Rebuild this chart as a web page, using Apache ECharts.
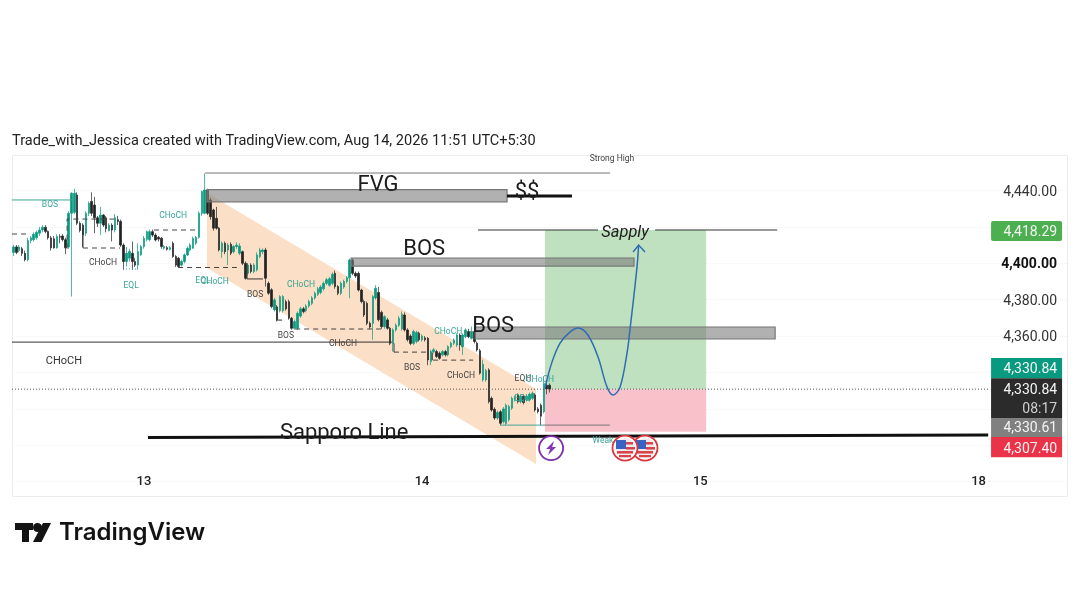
<!DOCTYPE html>
<html><head><meta charset="utf-8">
<style>html,body{margin:0;padding:0;background:#fff}#c{width:1080px;height:608px}</style>
<script src="https://cdn.jsdelivr.net/npm/echarts@6/dist/echarts.min.js"></script>
</head><body><div id="c"></div>
<script>
var slotCount = 364;
var dayLabelSlots = [45, 141, 237, 333];
var dayLabels = ['13', '14', '15', '18'];
var shownPrices = [4440, 4400, 4380, 4360];
// open, close, low, high per 15-minute bar
var candles = [
[4406,4409,4404,4410],[4409,4406,4405,4410],[4407,4409,4406,4410],[4408,4405.5,4404,4409],[4405.5,4402,4401,4407],
[4402,4412.5,4401,4414],[4412.5,4414,4411,4415],[4413,4416,4412,4417],[4414,4417,4413,4418],[4416.5,4418.3,4415,4420],
[4418.3,4419.8,4417,4421],[4419.8,4417.5,4416.5,4421],[4417.5,4414,4413,4418],[4414,4408.5,4407,4415],[4413.5,4408.5,4408,4415],
[4408.5,4414.7,4408,4416],[4414.7,4414.3,4411,4416],[4415,4413,4412,4416],[4413,4408.5,4405,4414],[4409,4427.5,4408,4428.5],
[4427.5,4438.5,4381.7,4439],[4428,4438.5,4427,4441],[4437.5,4422,4421,4439],[4422,4418,4417,4423],[4421,4415.5,4409,4422],
[4416.5,4427.5,4415,4428.5],[4427.5,4433,4426,4434],[4434,4427.5,4426,4439],[4432,4425,4416.5,4436.5],[4425,4422,4420,4426],
[4422,4426.5,4415.5,4431],[4426.5,4421,4420,4427],[4425,4419,4417,4426],[4418,4421,4417.5,4422],[4421,4418.3,4412,4422],
[4418.3,4425,4417,4427],[4424,4423,4421,4426],[4423,4410,4409,4424],[4410,4401,4396.4,4411],[4401,4405.5,4398.2,4409],
[4402.8,4406.5,4401,4408],[4405.5,4401,4396.4,4412],[4401,4399,4398,4403],[4399,4406.5,4396.4,4411],[4404.7,4409.2,4404,4410],
[4409.2,4413.7,4408,4415],[4413.2,4417.4,4412,4418],[4413,4417.4,4412,4418.5],[4417.4,4415.5,4414.5,4418.5],[4415.5,4412.8,4412,4416.5],
[4414.3,4413.3,4412,4415],[4413.8,4409.2,4408,4414.5],[4408.3,4409.2,4407.5,4410],[4408.6,4407.7,4407,4409.5],[4407.7,4408.6,4407,4409.5],
[4411,4403.7,4403,4412],[4403.7,4399,4398,4404.5],[4402.8,4398.2,4397.5,4403.5],[4399,4401,4398.2,4402],[4401,4404.6,4400,4405.5],
[4404.6,4408.3,4404,4409.2],[4407.3,4410,4406.5,4411],[4408.3,4413.7,4408,4414.7],[4411,4414.3,4410,4415],[4414.3,4427.5,4413.5,4428.5],
[4427.5,4439.4,4426,4440],[4427.5,4440.3,4427,4449.4],[4440.3,4427.5,4426.5,4441],[4434.8,4425.6,4424,4436],[4429.3,4419.3,4418,4430],
[4424.7,4419.3,4418.5,4431],[4419.3,4407.3,4406.5,4420],[4406.4,4411,4403,4412],[4411,4406.4,4405,4412],[4407.3,4410,4399,4411],
[4410.4,4405.5,4404.5,4411.5],[4406.4,4409.2,4405.5,4410],[4409.2,4410,4408,4411.5],[4405.5,4409.5,4404.5,4411],[4406.4,4400,4399,4407],
[4400,4391.8,4391,4401],[4394.5,4399,4393.5,4400],[4399,4395.5,4394.5,4400],[4395.5,4399,4394.5,4400],[4396.4,4404.6,4395.5,4406],
[4403.7,4407.3,4402.8,4408.5],[4406.4,4407.3,4405,4408.2],[4407.3,4391.8,4387.2,4408.5],[4389,4383.6,4382.7,4390],[4385.4,4376.2,4375.3,4386.3],
[4374.4,4379.9,4373.5,4381],[4376,4369,4368,4377],[4374,4381.7,4373,4382.5],[4374,4381.7,4373,4382.5],[4378.9,4375,4374,4380],
[4378.9,4369.8,4369,4380],[4369.8,4364.3,4363.5,4370.5],[4364.3,4368,4363.5,4369],[4364.3,4372.5,4363.5,4373.5],[4371,4375,4370,4376],
[4375,4373.5,4372.5,4376],[4374,4376.5,4373,4377.5],[4376.5,4379,4375.5,4380],[4378,4381,4377,4382],[4381,4383.5,4380,4384.5],
[4383,4386,4382,4387],[4384,4387,4383,4388],[4386,4389,4385,4390],[4389,4391,4388,4392],[4388,4391.5,4387,4392.5],
[4389,4394,4388,4395],[4394.5,4387.2,4386,4396],[4387.2,4383.5,4382.5,4388],[4383.5,4389,4382.5,4390],[4387,4390,4386,4391],
[4390,4392,4389,4393],[4392,4401.8,4380.8,4402.5],[4401.8,4394.5,4393.5,4402.8],[4394.5,4393,4392,4395.5],[4394.5,4385.3,4384.5,4395.5],
[4385.3,4379,4378,4386],[4379,4371.6,4370.5,4380],[4378,4367,4366,4379],[4367,4365,4364,4368],[4367,4381.7,4358,4382.5],
[4381,4386.3,4380,4388],[4384,4369,4368,4387],[4373,4365.2,4364,4374],[4365.2,4370.7,4364,4371.5],[4368.9,4364.3,4363.5,4370],
[4364.3,4356,4355,4365],[4356,4363.4,4351.5,4364.3],[4363.4,4366,4362.5,4367],[4366,4369.8,4365,4371],[4364,4372,4363,4373.5],
[4371.6,4363.4,4362.5,4373],[4363.4,4358,4357,4364.3],[4360,4356,4355,4361],[4356,4362.5,4355,4363.5],[4357,4362,4356,4363],
[4361.6,4358,4357,4362.5],[4358,4360,4357,4361],[4359,4358,4357,4360],[4358.8,4346.9,4344,4359.5],[4346,4351.5,4344,4352.5],
[4351.5,4352.5,4350.5,4353.5],[4351.5,4348.8,4348,4352.5],[4350.6,4347.8,4347,4351.5],[4349.7,4351.5,4348.8,4352.4],[4351.5,4349.7,4348.8,4352.4],
[4349.7,4354.2,4348.8,4355],[4354.2,4356.1,4353.3,4357],[4356.1,4357.9,4355,4358.8],[4355.1,4360.6,4354,4361.5],[4360.6,4355.1,4352,4361.5],
[4354.2,4360.6,4349.7,4361.5],[4359.7,4363.4,4358.8,4364.3],[4362.5,4359.7,4358.8,4364],[4358.8,4362.5,4358,4365.2],[4362.5,4357,4356,4363.4],
[4356.1,4352.4,4351.5,4357],[4352,4339.6,4338.8,4353],[4336,4344.5,4335,4347],[4336,4341,4335,4342],[4341.4,4324,4323,4342.3],
[4325.8,4319.4,4318.5,4326.8],[4319.8,4315,4314,4320.8],[4315,4318,4314,4319],[4318.4,4312.1,4311,4319.3],[4313,4320,4312,4321],
[4312,4322,4311,4323],[4314,4321.3,4313,4322.3],[4320.4,4325.8,4319.4,4326.8],[4325,4326.6,4324,4327.5],[4327.5,4324,4323,4328.5],
[4324,4327,4323,4328],[4327,4323.5,4322.5,4328],[4325,4327,4324,4328],[4325,4328,4324,4329],[4325.8,4328.6,4325,4329.5],
[4327.7,4319.4,4318.5,4328.6],[4320,4318.5,4317.5,4321],[4322,4316,4311,4323],[4318.5,4334,4317.5,4337.7],[4333,4331,4328,4336],
[4333,4330.84,4329,4334]
];
var bandCorners = [[67.3,4438.6],[180.8,4330.9],[180.8,4289.7],[67.3,4397.4]];
var targetBox = [183.9, 4418.29, 239.5, 4330.84];
var stopBox = [183.9, 4330.84, 239.5, 4307.40];
var zoneBoxes = [[67.3,4440.5,170.8,4433.8],[117,4402.9,214.6,4398.5],[159.8,4365,263.3,4358.4]];
var darkLines = [
 [[0,4356.7],[131.1,4356.7]],
 [[81.1,4400],[81.1,4391.4],[86.6,4391.4]],
 [[91.4,4372],[91.4,4368.8],[93.2,4368.8]],
 [[131.8,4356],[131.8,4351.2]],
 [[145,4351],[145,4346.8]],
 [[24.5,4419.4],[24.5,4408.4]],
 [[160.8,4418.3],[202.2,4418.3]],
 [[221.9,4418.3],[264,4418.3]]
];
var greyLines = [
 [[66.6,4449.6],[206.3,4449.6]],
 [[183,4311.1],[206.3,4311.1]]
];
var tealLines = [
 [[0,4434.8],[20.7,4434.8]],
 [[168.4,4311.1],[183,4311.1]]
];
var dashedLines = [
 [[24.5,4408.4],[37.3,4408.4]],
 [[19,4408],[19,4424.3],[36,4424.3]],
 [[0,4416.1],[6,4416.1]],
 [[49,4418.3],[63.8,4418.3]],
 [[57.3,4397.7],[77.6,4397.7]],
 [[97.7,4363.9],[127.7,4363.9]],
 [[131.8,4351.2],[143.2,4351.2]],
 [[145.3,4346.8],[159.1,4346.8]]
];
var tealDotLines = [[[38.3,4396.9],[43.5,4396.9]]];
var heavyLines = [
 [[170.8,4437],[193.2,4437]],
 [[46.9,4304.3],[336.8,4305.6]]
];
var smallDarkNotes = [
 ['CHoCH',31.4,4400.1],['BOS',83.9,4382.5],['BOS',94.5,4360],['CHoCH',114.2,4355.6],['BOS',138,4342.4],
 ['CHoCH',154.9,4338],['EQH',176.3,4336.4],['Strong High',207,4457.2]
];
var smallTealNotes = [
 ['BOS',13.1,4432],['EQL',41.1,4387.4],['CHoCH',55.6,4425.9],['EQL',65.9,4390.2],['CHoCH',70,4389.9],
 ['CHoCH',99.7,4388.4],['CHoCH',150.5,4362.2],['CHoCH',182.2,4336],['EQL',176,4325.4],['Weak',203.9,4302.3]
];
var leftNote = ['CHoCH', 17.9, 4346.2];
var bigNotes = [
 ['FVG',126.3,4442.5],['$$',177.7,4438.7],['BOS',142.2,4407.8],['BOS',166,4365.5],['Sapporo Line',114.6,4306.7]
];
var sapplyNote = ['Sapply', 211.5, 4416.9];
var curveSlots = [183.9,186.3,189.1,192.5,195.3,198.7,202.2,205.3,207.4,209.8,212.2,213.2,214.6,215.7,216.2];
var curvePrices = [4331.5,4345.7,4356.2,4362.2,4364.4,4360.6,4348.5,4332,4327.6,4332,4350.7,4363.4,4382.6,4399,4410];
var arrowHead = [[214.3,4406.2],[216.2,4410],[218.4,4406.2]];
var tagTops = [4423.2,4347.9,4336.9,4315,4304.5];
var tagBottoms = [4412.2,4336.9,4315,4304.5,4293.5];
var tagColors = ['#4caf50','#089981','#2b2b2b','#808080','#ea3348'];
var tagSlots = [337.8, 362.3];
var tagTexts = [['4,418.29',4417.1],['4,330.84',4341.8],['4,330.84',4330.3],['08:17',4319.9],['4,330.61',4309.2],['4,307.40',4297.9]];
var lastPrice = 4330.84;
var boltIcon = [186, 4298.5];
var flagIcons = [[218.4,4298.5],[211.5,4298.5]];

var categories = [];
for (var i = 0; i < slotCount; i++) {
  var k = dayLabelSlots.indexOf(i);
  categories.push(k >= 0 ? dayLabels[k] : 'b' + i);
}
function money(v){ return v.toLocaleString('en-US',{minimumFractionDigits:2,maximumFractionDigits:2}); }
function layer(z, items, draw){
  return {type:'custom', coordinateSystem:'cartesian2d', xAxisIndex:1, yAxisIndex:0, z:z, silent:true, clip:false,
    encode:{x:0,y:1}, data:items.map(function(){return [0,4400];}),
    renderItem:function(p,api){ return draw(items[p.dataIndex], api); }};
}
function pts(list, api){ return list.map(function(q){return api.coord(q);}); }
function lineLayer(z, list, style){
  return layer(z, list, function(l, api){
    return {type:'polyline', shape:{points:pts(l,api)}, style:Object.assign({fill:null}, style)};
  });
}
function noteLayer(z, list, font, color){
  return layer(z, list, function(n, api){
    var c = api.coord([n[1],n[2]]);
    return {type:'text', style:{text:n[0], x:c[0], y:c[1], font:font, fill:color, align:'center', verticalAlign:'middle'}};
  });
}
function boxLayer(z, list, fill, stroke){
  return layer(z, list, function(b, api){
    var a = api.coord([b[0],b[1]]), e = api.coord([b[2],b[3]]);
    return {type:'rect', shape:{x:a[0],y:a[1],width:e[0]-a[0],height:e[1]-a[1]}, style:{fill:fill, stroke:stroke||null, lineWidth:stroke?1.2:0}};
  });
}
var series = [
  layer(1, [bandCorners], function(b, api){ return {type:'polygon', shape:{points:pts(b,api)}, style:{fill:'#fbdfc6'}}; }),
  boxLayer(2, [targetBox], '#bfe1bf'),
  boxLayer(2, [stopBox], '#f9c2cb'),
  {type:'candlestick', xAxisIndex:0, yAxisIndex:0, z:3, barWidth:2, silent:true, data:candles,
   itemStyle:{color:'#089981',color0:'#232323',borderColor:'#089981',borderColor0:'#232323',borderWidth:0.7}},
  lineLayer(4, [[[0,lastPrice],[337.5,lastPrice]]], {stroke:'#555',lineWidth:1,lineDash:[1,2]}),
  boxLayer(5, zoneBoxes, 'rgba(125,125,125,0.6)', '#777'),
  lineLayer(6, darkLines, {stroke:'#333',lineWidth:1}),
  lineLayer(6, greyLines, {stroke:'#777',lineWidth:1}),
  lineLayer(6, tealLines, {stroke:'#3ea699',lineWidth:1}),
  lineLayer(6, dashedLines, {stroke:'#444',lineWidth:1,lineDash:[5,4]}),
  lineLayer(6, tealDotLines, {stroke:'#3ea699',lineWidth:1,lineDash:[1,2]}),
  lineLayer(6, heavyLines, {stroke:'#111',lineWidth:3}),
  noteLayer(7, smallDarkNotes, '8.5px Roboto', '#444'),
  noteLayer(7, smallTealNotes, '8.5px Roboto', '#3aa597'),
  noteLayer(7, [leftNote], '11px Roboto', '#333'),
  noteLayer(7, bigNotes, '22px Roboto', '#1c1c1c'),
  noteLayer(7, [sapplyNote], 'italic 16.5px Roboto', '#1c1c1c'),
  {type:'line', xAxisIndex:1, yAxisIndex:0, z:8, smooth:0.35, symbol:'none', silent:true,
   data:curveSlots.map(function(s,i){return [s,curvePrices[i]];}), lineStyle:{color:'#2e6db4',width:1.5}},
  lineLayer(8, [arrowHead], {stroke:'#2e6db4',lineWidth:1.5}),
  layer(9, tagTops, function(t, api){
    var i = tagTops.indexOf(t), a = api.coord([tagSlots[0],t]), e = api.coord([tagSlots[1],tagBottoms[i]]);
    return {type:'rect', shape:{x:a[0],y:a[1],width:e[0]-a[0],height:e[1]-a[1],r:(i==0?2:0)}, style:{fill:tagColors[i]}};
  }),
  layer(10, tagTexts, function(t, api){
    var c = api.coord([360.6,t[1]]);
    return {type:'text', style:{text:t[0], x:c[0], y:c[1], font:'14px Roboto', fill:t[0]=='08:17'?'#cfcfcf':'#f4f4f4', align:'right', verticalAlign:'middle'}};
  }),
  layer(9, [boltIcon], function(b, api){
    var c = api.coord(b), x=c[0], y=c[1];
    return {type:'group', children:[
      {type:'circle', shape:{cx:x,cy:y,r:12}, style:{fill:'#fff',stroke:'#7b2fa8',lineWidth:1.8}},
      {type:'polygon', shape:{points:[[x+3,y-7],[x-5,y+1],[x-1,y+1],[x-3,y+7],[x+5,y-1],[x+1,y-1]]}, style:{fill:'#8a35b8'}}
    ]};
  }),
  layer(9, flagIcons, function(b, api){
    var c = api.coord(b), x=c[0], y=c[1], kids=[
      {type:'circle', shape:{cx:x,cy:y,r:12.5}, style:{fill:'#fff',stroke:'#d9363e',lineWidth:1.8}},
      {type:'circle', shape:{cx:x,cy:y,r:10}, style:{fill:'#f1eaea'}},
      {type:'rect', shape:{x:x-8,y:y+3,width:16,height:2.5}, style:{fill:'#d8404a'}},
      {type:'rect', shape:{x:x-6,y:y+7,width:12,height:2.2}, style:{fill:'#d8404a'}},
      {type:'rect', shape:{x:x+1,y:y-1,width:9,height:2.5}, style:{fill:'#d8404a'}},
      {type:'rect', shape:{x:x+1,y:y-6,width:7,height:2.5}, style:{fill:'#d8404a'}},
      {type:'rect', shape:{x:x-9,y:y-8,width:10,height:9}, style:{fill:'#3a62c4'}}
    ];
    return {type:'group', children:kids};
  })
];
var chart = echarts.init(document.getElementById('c'), null, {renderer:'canvas'});
chart.setOption({
  animation:false, backgroundColor:'#fff',
  grid:{left:12, top:154.1, width:1055, height:364, containLabel:false},
  xAxis:[
    {type:'category', data:categories, boundaryGap:true, offset:-46,
     axisLine:{show:false}, axisTick:{show:false}, splitLine:{show:false},
     axisLabel:{interval:0, margin:3, color:'#222', fontFamily:'Roboto', fontSize:13, fontWeight:500,
       formatter:function(v){return dayLabels.indexOf(v)>=0?v:'';}}},
    {type:'value', min:0, max:slotCount, show:false}
  ],
  yAxis:{type:'value', position:'right', min:4260, max:4460, interval:20,
    axisLine:{show:false}, axisTick:{show:false},
    splitLine:{show:true, showMinLine:false, showMaxLine:false, lineStyle:{color:'#f3f3f3',type:'dotted'}},
    axisLabel:{inside:true, margin:10, color:'#333', fontFamily:'Roboto', fontSize:14, padding:[3,0,0,0],
      formatter:function(v){
        if(shownPrices.indexOf(v)<0) return '';
        return v===4400 ? '{b|'+money(v)+'}' : money(v);
      },
      rich:{b:{fontFamily:'Roboto',fontSize:14,fontWeight:'bold',color:'#111'}}}},
  series:series,
  graphic:[
    {type:'rect', z:0, silent:true, shape:{x:12.5,y:155.5,width:1055,height:341}, style:{fill:null,stroke:'#ececec',lineWidth:1}},
    {type:'text', z:20, style:{text:'Trade_with_Jessica created with TradingView.com, Aug 14, 2026 11:51 UTC+5:30', x:12, y:141.5, font:'14.55px Roboto', fill:'#222', verticalAlign:'middle'}},
    {type:'polygon', z:20, shape:{points:[[15,523],[33,523],[33,530],[29,530],[29,542],[22,542],[22,530],[15,530]]}, style:{fill:'#131313'}},
    {type:'circle', z:20, shape:{cx:37.5,cy:527.5,r:4.5}, style:{fill:'#131313'}},
    {type:'polygon', z:20, shape:{points:[[43,523],[51,523],[41.5,542],[33,542]]}, style:{fill:'#131313'}},
    {type:'text', z:20, style:{text:'TradingView', x:59, y:533, font:'600 24px Inter', fill:'#131313', verticalAlign:'middle'}}
  ]
});
</script></body></html>
